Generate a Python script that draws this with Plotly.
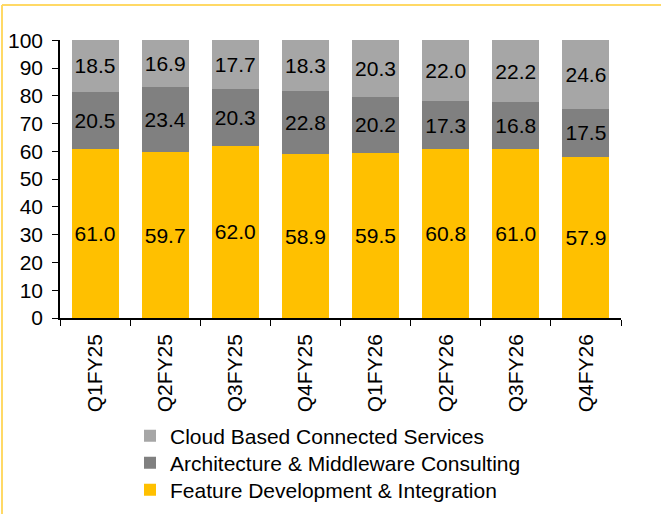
import plotly.graph_objects as go

quarters = ["Q1FY25", "Q2FY25", "Q3FY25", "Q4FY25", "Q1FY26", "Q2FY26", "Q3FY26", "Q4FY26"]
feature_dev = [61.0, 59.7, 62.0, 58.9, 59.5, 60.8, 61.0, 57.9]
architecture = [20.5, 23.4, 20.3, 22.8, 20.2, 17.3, 16.8, 17.5]
cloud = [18.5, 16.9, 17.7, 18.3, 20.3, 22.0, 22.2, 24.6]

W, H = 661, 514
ml, mr, mt, mb = 60, 40, 40, 196
pw, ph = W - ml - mr, H - mt - mb

FAM = "Liberation Sans, Arial, sans-serif"
font = dict(family=FAM, size=21, color="black")

fig = go.Figure()
series = [
    ("Feature Development & Integration", feature_dev, "#FFC000", "legend3"),
    ("Architecture & Middleware Consulting", architecture, "#808080", "legend2"),
    ("Cloud Based Connected Services", cloud, "#A6A6A6", "legend"),
]
for name, vals, col, lg in series:
    fig.add_trace(go.Bar(
        x=quarters, y=vals, name=name, marker=dict(color=col, line=dict(width=0)),
        text=[f"{v:.1f}" for v in vals], textposition="inside", insidetextanchor="middle",
        textangle=0,
        textfont=dict(family=FAM, size=21, color="black"),
        constraintext="none", cliponaxis=False, legend=lg,
    ))


def legend_box(row_y):
    return dict(
        xref="container", yref="container",
        x=130 / W, y=1 - row_y / H, xanchor="left", yanchor="middle",
        font=dict(size=21, family=FAM, color="black"), itemwidth=30,
        bgcolor="rgba(0,0,0,0)", borderwidth=0,
    )


fig.update_layout(
    barmode="stack", bargap=0.33,
    width=W, height=H,
    margin=dict(l=ml, r=mr, t=mt, b=mb, autoexpand=False),
    paper_bgcolor="white", plot_bgcolor="white",
    font=font,
    showlegend=True,
    legend=legend_box(436),
    legend2=legend_box(463),
    legend3=legend_box(490),
    xaxis=dict(
        showline=True, linecolor="black", linewidth=1.5,
        ticks="outside", tickson="boundaries", ticklen=6, tickcolor="black",
        tickangle=-90, tickfont=dict(size=21), showgrid=False,
        ticklabelstandoff=6, automargin=False,
    ),
    yaxis=dict(
        range=[0, 100.1], tickvals=list(range(0, 101, 10)), showline=True,
        linecolor="black", linewidth=1.5,
        ticks="outside", ticklen=6, tickcolor="black", showgrid=False,
        tickfont=dict(size=21), zeroline=False, ticklabelstandoff=5, automargin=False,
    ),
    shapes=[
        dict(type="line", xref="paper", yref="paper",
             x0=(2 - ml) / pw, x1=(W - ml) / pw,
             y0=1 + (mt - 5) / ph, y1=1 + (mt - 5) / ph,
             line=dict(color="#FFD966", width=2)),
        dict(type="line", xref="paper", yref="paper",
             x0=(2 - ml) / pw, x1=(2 - ml) / pw,
             y0=1 + (mt - 5) / ph, y1=-(H - mt - ph) / ph,
             line=dict(color="#FFD966", width=2)),
    ],
)

fig.write_html("out.html")
